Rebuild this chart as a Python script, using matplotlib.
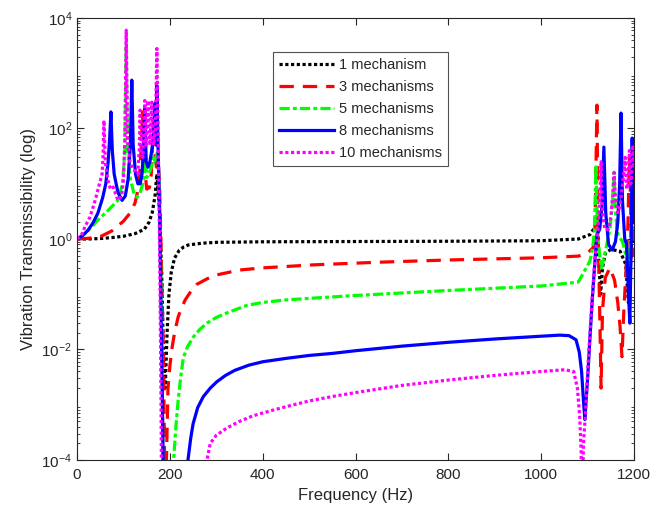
import matplotlib
matplotlib.use("Agg")
import matplotlib.pyplot as plt
from matplotlib.ticker import LogLocator, LogFormatterSciNotation, NullFormatter, MultipleLocator

plt.rcParams['font.family'] = ['Liberation Sans', 'DejaVu Sans']
plt.rcParams['mathtext.default'] = 'regular'

# ---------------- data ----------------
f1 = [0, 25, 50, 75, 100, 125, 145, 155, 162, 168, 172, 178, 182, 186, 190, 194, 198, 203,
      210, 220, 230, 240, 270, 300, 400, 600, 800, 1000, 1080, 1105, 1115, 1120, 1124, 1128, 1132,
      1138, 1150, 1170, 1182, 1188, 1192, 1196, 1200]
t1 = [1.0, 1.0, 1.02, 1.06, 1.12, 1.25, 1.5, 2.0, 3.0, 6.0, 15, 3, 0.3, 0.01, 0.002, 0.02, 0.1, 0.25,
      0.45, 0.62, 0.72, 0.78, 0.84, 0.87, 0.89, 0.90, 0.91, 0.93, 1.0, 1.2, 1.6, 2.5, 0.4, 0.1, 0.3,
      0.55, 0.65, 0.6, 0.35, 0.07, 0.3, 1.5, 0.8]

f3 = [0, 25, 50, 75, 100, 115, 125, 133, 138, 141, 144, 150, 156, 160, 163, 165, 167, 171, 175,
      178, 182, 186, 190, 196, 200, 205, 211, 218, 225, 233, 245, 258, 280, 301, 351, 400, 508,
      650, 800, 1000, 1080, 1100, 1112,
      1116, 1120, 1123, 1126, 1129, 1132, 1138, 1148, 1158, 1165, 1170, 1174, 1178, 1183, 1187,
      1190, 1193, 1196, 1200]
t3 = [1.0, 1.03, 1.1, 1.4, 2.1, 3.0, 4.5, 9, 40, 200, 30, 8, 8.5, 15, 60, 150, 40, 20, 25,
      8, 0.3, 0.01, 1e-5, 2e-3, 5e-3, 0.0112, 0.022, 0.039, 0.056, 0.079, 0.112, 0.151, 0.19, 0.224,
      0.275, 0.30, 0.34, 0.38, 0.417, 0.457, 0.49, 0.56, 0.7,
      1.5, 265, 1.0, 0.05, 0.002, 0.05, 0.2, 0.3, 0.18, 0.07, 0.025, 0.0074, 0.05, 0.3, 2,
      30, 3, 0.5, 2]

f5 = [0, 17, 30, 45, 67, 88, 98, 103, 106, 109, 115, 122, 129, 135, 140, 145, 148, 150, 155, 160,
      163, 166, 170, 174, 177, 180, 183, 186, 200, 208, 213, 218, 224, 229, 238, 250, 265, 280,
      300, 323, 350, 366, 400, 450, 508, 600, 800,
      1000, 1080, 1095, 1105, 1111, 1115, 1118, 1121, 1126, 1130, 1140, 1148, 1153, 1157, 1160,
      1165, 1175, 1183, 1188, 1192, 1196, 1200]
t5 = [1.0, 1.25, 1.6, 2.2, 3.3, 5, 10, 40, 3000, 40, 12, 7, 5.7, 6.5, 9, 15, 30, 13, 15, 20,
      30, 25, 30, 40, 10, 0.5, 0.01, 1e-5, 1e-5, 1e-4, 4e-4, 0.00126, 0.0035, 0.0071, 0.0112,
      0.0166, 0.0234, 0.030, 0.038, 0.046, 0.056, 0.063, 0.071, 0.079, 0.085, 0.095, 0.117,
      0.141, 0.166, 0.28, 0.4, 0.7, 1.5, 22, 1.5, 0.5, 0.3, 0.7, 1.5, 4, 16, 3,
      1.2, 0.9, 0.5, 0.3, 1, 3, 1.5]

f8 = [0, 12, 24, 35, 45, 55, 62, 67, 70, 73, 76, 80, 88, 97, 104, 110, 115, 118, 121, 126, 131,
      136, 140, 143, 146, 149, 153, 157, 160, 164, 168, 170, 172, 175, 178, 181, 184, 187, 239,
      245, 250, 260, 272, 287, 301, 320, 340, 370, 400, 450, 500, 550, 600, 700, 800, 900, 1000,
      1040, 1060, 1075, 1082, 1087, 1091, 1094,
      1100, 1105, 1110, 1116, 1120, 1126, 1131, 1135, 1139, 1145, 1153, 1160, 1165, 1169, 1172,
      1175, 1180, 1184, 1188, 1191, 1194, 1196, 1198, 1200]
t8 = [1.0, 1.15, 1.45, 2.0, 2.95, 5.5, 10, 25, 60, 200, 40, 15, 7, 5, 6, 12, 50, 750, 50, 15, 10,
      10, 15, 40, 230, 25, 20, 25, 35, 60, 290, 50, 600, 30, 3, 0.05, 0.001, 1e-5, 1e-4,
      2.5e-4, 4.5e-4, 8.9e-4, 0.0014, 0.0020, 0.0026, 0.0034, 0.0042, 0.0052, 0.0060, 0.0069,
      0.0078, 0.0085, 0.0095, 0.0115, 0.0135, 0.0155, 0.0174,
      0.0182, 0.0178, 0.015, 0.009, 0.004, 0.0012, 0.00054,
      0.003, 0.016, 0.08, 0.42, 1.2, 1.5, 4, 46, 3, 0.8, 0.63, 0.9, 2, 10, 190,
      5, 1, 0.8, 0.1, 0.03, 1, 67, 5, 2]

f10 = [0, 10, 17, 28, 39, 47, 54, 56, 58, 61, 66, 72, 78, 88, 96, 100, 103, 106, 109, 114, 120,
       126, 131, 134, 136, 138, 142, 146, 149, 153, 157, 161, 165, 169, 172, 175, 177, 179, 181,
       183, 280, 287, 300, 323, 350, 379, 420, 452, 500, 550, 600, 700, 800, 900, 1000, 1050,
       1070, 1078, 1083, 1086, 1088,
       1091, 1095, 1100, 1105, 1110, 1116, 1122, 1126, 1129, 1132, 1137, 1145, 1150, 1154, 1157,
       1160, 1165, 1170, 1174, 1178, 1181, 1184, 1187, 1190, 1193, 1196, 1198, 1200]
t10 = [1.0, 1.2, 1.66, 2.5, 5, 9, 15, 30, 140, 25, 12, 8, 8.7, 5, 6, 12, 60, 6000, 60, 25, 18,
       17, 15, 40, 215, 40, 30, 320, 50, 320, 50, 300, 50, 100, 2800, 50, 3, 0.1, 0.001,
       1e-6, 1e-4, 2.0e-4, 2.8e-4, 3.8e-4, 5.0e-4, 6.3e-4, 7.9e-4, 9.3e-4, 0.00117, 0.00141,
       0.00166, 0.00224, 0.0028, 0.0034, 0.0040, 0.0043,
       0.0040, 0.002, 6e-4, 1.5e-4, 1e-5,
       2e-4, 6e-4, 0.004, 0.02, 0.09, 0.45, 1.5, 5, 25, 3, 1.5, 1.5, 2.5, 6, 16,
       5, 3, 4, 8, 15, 30, 8, 10, 40, 10, 20, 50, 20]

labels = ['1 mechanism', '3 mechanisms', '5 mechanisms', '8 mechanisms', '10 mechanisms']
x_label = 'Frequency (Hz)'
y_label = 'Vibration Transmissibility (log)'

# ---------------- plot ----------------
fig = plt.figure(figsize=(6.55, 5.11), dpi=100)
ax = fig.add_axes([0.1176, 0.0998, 0.8504, 0.865])

lw = 2.3
ax.plot(f1, t1, color='black', lw=lw, ls=(0, (1.0, 0.8)), label=labels[0])
ax.plot(f3, t3, color='#FF0000', lw=lw, ls=(0, (4.5, 2.8)), label=labels[1])
ax.plot(f5, t5, color='#00FF00', lw=lw, ls=(0, (3.2, 1.0, 1.2, 1.0)), label=labels[2])
ax.plot(f8, t8, color='#0000FF', lw=lw, ls='-', label=labels[3])
ax.plot(f10, t10, color='#FF00FF', lw=lw, ls=(0, (1.0, 0.8)), label=labels[4])

ax.set_yscale('log')
ax.set_xlim(0, 1200)
ax.set_ylim(1e-4, 1e4)
ax.xaxis.set_major_locator(MultipleLocator(200))
ax.yaxis.set_major_formatter(LogFormatterSciNotation())
ax.yaxis.set_minor_locator(LogLocator(base=10, subs=tuple(range(2, 10)), numticks=100))
ax.yaxis.set_minor_formatter(NullFormatter())
ax.set_yticks([1e-4, 1e-2, 1e0, 1e2, 1e4])

txtc = '#262626'
for s in ax.spines.values():
    s.set_color('#262626')
    s.set_linewidth(0.8)
ax.tick_params(which='both', direction='in', top=True, right=True, colors='#262626',
               labelcolor=txtc, labelsize=11)
ax.tick_params(which='major', length=5)
ax.tick_params(which='minor', length=2.5)
ax.tick_params(axis='x', pad=6)

ax.set_xlabel(x_label, fontsize=12, color=txtc, labelpad=4)
ax.set_ylabel(y_label, fontsize=12, color=txtc, labelpad=4)

leg = ax.legend(loc='upper left', bbox_to_anchor=(0.352, 0.923), borderaxespad=0,
                fontsize=10.5, frameon=True, fancybox=False, handlelength=3.8,
                handletextpad=0.35, labelspacing=0.55, borderpad=0.4)
leg.get_frame().set_edgecolor('#262626')
leg.get_frame().set_linewidth(0.8)
for t in leg.get_texts():
    t.set_color(txtc)

fig.savefig('out.png', dpi=100)
